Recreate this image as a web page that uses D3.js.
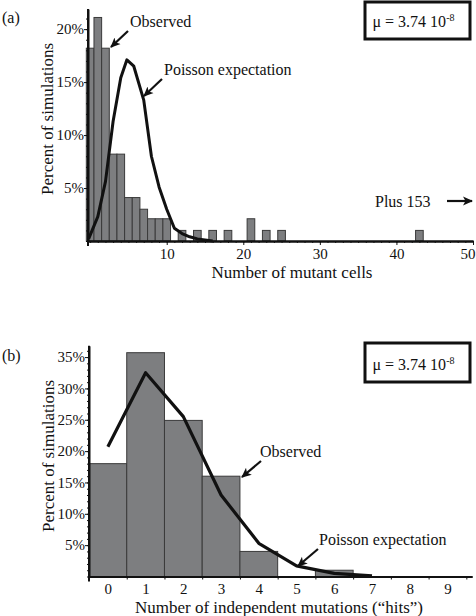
<!DOCTYPE html>
<html><head><meta charset="utf-8">
<script src="https://cdn.jsdelivr.net/npm/d3@7"></script>
<style>
body{margin:0;background:#fff}
svg{display:block}
text{font-family:"Liberation Serif","DejaVu Serif",serif;fill:#111}
</style></head>
<body><svg id="c" width="476" height="616"></svg>
<script>
// ---------- DATA ----------
// Panel (a): number of mutant cells
const cellsA = [0,1,2,3,4,5,6,7,8,9,10,12,14,16,18,21,23,25,43];
const pctA   = [18.2,21.1,18.2,8.2,8.2,4.1,4.1,3.0,2.1,2.1,2.1,1.0,1.0,1.0,1.0,2.1,1.0,1.0,1.0];
const poisA_x = [-0.2,1,2,3,4,4.8,5.7,7,8,9,10,11,12,13,14,16];
const poisA_y = [0.2,2.3,5.6,11.3,15.4,17.1,16.5,13.3,8.0,5.1,3.0,1.2,0.7,0.4,0.2,0];
const xTicksA = [10,20,30,40,50];
const yTicksA = [5,10,15,20];
// Panel (b): number of independent mutations
const hitsB = [0,1,2,3,4,5,6];
const pctB  = [18,35.7,24.9,16,4,0,1];
const poisB_x = [0,1,2,3,4,5,6,7];
const poisB_y = [20.7,32.5,25.5,13.0,5.3,1.7,0.5,0.1];
const xTicksB = [0,1,2,3,4,5,6,7,8,9];
const yTicksB = [5,10,15,20,25,30,35];
const muLabel = "\u03bc = 3.74 10";
const muExp = "-8";

// ---------- DRAW ----------
const FONT = "'Liberation Serif','DejaVu Serif',serif";
const svg = d3.select("#c");
const barFill = "#7d7e80", barStroke = "#3a3a3a";

svg.append("defs").append("marker")
  .attr("id","ah").attr("viewBox","0 0 10 10").attr("refX",9).attr("refY",5)
  .attr("markerWidth",10).attr("markerHeight",10).attr("markerUnits","userSpaceOnUse")
  .attr("orient","auto")
  .append("path").attr("d","M0,0.5 L10,5 L0,9.5 L2.5,5 Z").attr("fill","#111");

function arrow(x1,y1,x2,y2,w){
  svg.append("line").attr("x1",x1).attr("y1",y1).attr("x2",x2).attr("y2",y2)
    .attr("stroke","#111").attr("stroke-width",w||2.2).attr("marker-end","url(#ah)");
}
function label(x,y,t,size,anchor){
  return svg.append("text").attr("x",x).attr("y",y).attr("font-size",size||16)
    .attr("font-family",FONT).attr("text-anchor",anchor||"start").text(t);
}
function muBox(x,y,w,h,ty){
  svg.append("rect").attr("x",x).attr("y",y).attr("width",w).attr("height",h)
    .attr("fill","none").attr("stroke","#111").attr("stroke-width",3);
  const t = svg.append("text").attr("x",x+w/2-4).attr("y",ty).attr("font-size",16)
    .attr("font-family",FONT).attr("text-anchor","middle");
  t.append("tspan").text(muLabel);
  t.append("tspan").attr("dy",-6).attr("font-size",10).text(muExp);
}
function styleAxis(g){
  g.attr("font-family",FONT);
  g.selectAll("path.domain").attr("stroke","#111").attr("stroke-width",2);
  g.selectAll("line").attr("stroke","#111");
  g.selectAll("text").attr("font-size",15).attr("fill","#111").attr("font-family",FONT);
}

// ===== Panel (a) =====
const xA = d3.scaleLinear().domain([-0.28,50]).range([88,473]);
const yA = d3.scaleLinear().domain([0,21.9]).range([241,9]);

svg.append("g").selectAll("rect").data(cellsA).join("rect")
  .attr("x",(d)=>xA(d-0.5)).attr("width",(d)=>xA(d+0.5)-xA(d-0.5))
  .attr("y",(d,i)=>yA(pctA[i])).attr("height",(d,i)=>yA(0)-yA(pctA[i]))
  .attr("fill",barFill).attr("stroke",barStroke).attr("stroke-width",1);

svg.append("path").datum(poisA_x.map((x,i)=>[x,poisA_y[i]]))
  .attr("d",d3.line().x(d=>xA(d[0])).y(d=>yA(d[1])))
  .attr("fill","none").attr("stroke","#111").attr("stroke-width",3).attr("stroke-linejoin","round");

// x axis (a)
const gxAm = svg.append("g").attr("transform",`translate(0,${yA(0)})`)
  .call(d3.axisBottom(xA).tickValues(d3.range(0,51)).tickSize(2).tickFormat("").tickSizeOuter(0));
styleAxis(gxAm);
const gxA = svg.append("g").attr("transform",`translate(0,${yA(0)})`)
  .call(d3.axisBottom(xA).tickValues(xTicksA).tickSize(4).tickPadding(3).tickSizeOuter(0));
styleAxis(gxA);
// keep the last label inside the picture, as in the reference
gxA.selectAll(".tick text").filter(d=>d===50).attr("text-anchor","end").attr("x",2);
// y axis (a)
const gyAm = svg.append("g").attr("transform",`translate(${xA.range()[0]},0)`)
  .call(d3.axisLeft(yA).tickValues(d3.range(0,22)).tickSize(2).tickFormat("").tickSizeOuter(0));
styleAxis(gyAm);
const gyA = svg.append("g").attr("transform",`translate(${xA.range()[0]},0)`)
  .call(d3.axisLeft(yA).tickValues(yTicksA).tickSize(4).tickPadding(0).tickFormat(d=>d+"%").tickSizeOuter(0));
styleAxis(gyA);
gyA.select("path.domain").attr("d",`M0,${yA(0)+5}V${yA.range()[1]}`);

label(2,23,"(a)",16);
label(53,119,"Percent of simulations",17,"middle").attr("transform","rotate(-90,53,119)");
label(292,278,"Number of mutant cells",17,"middle");
muBox(365,2,105,37,27);
label(130,27,"Observed",16);
arrow(128,31,111,47);
label(164,75,"Poisson expectation",16);
arrow(162,79,144,96);
label(375,207,"Plus 153",16);
arrow(447,201,472,201);

// ===== Panel (b) =====
const xB = d3.scaleLinear().domain([-0.5,9.65]).range([89,472]);
const yB = d3.scaleLinear().domain([0,36.8]).range([576.5,345.8]);

svg.append("g").selectAll("rect").data(hitsB.filter((d,i)=>pctB[i]>0)).join("rect")
  .attr("x",(d)=>xB(d-0.5)).attr("width",(d)=>xB(d+0.5)-xB(d-0.5))
  .attr("y",(d)=>yB(pctB[hitsB.indexOf(d)])).attr("height",(d)=>yB(0)-yB(pctB[hitsB.indexOf(d)]))
  .attr("fill",barFill).attr("stroke",barStroke).attr("stroke-width",1);

svg.append("path").datum(poisB_x.map((x,i)=>[x,poisB_y[i]]))
  .attr("d",d3.line().x(d=>xB(d[0])).y(d=>yB(d[1])))
  .attr("fill","none").attr("stroke","#111").attr("stroke-width",3.2).attr("stroke-linejoin","round");

const gxBm = svg.append("g").attr("transform",`translate(0,${yB(0)})`)
  .call(d3.axisBottom(xB).tickValues(d3.range(-0.5,9.6,1)).tickSize(3).tickFormat("").tickSizeOuter(0));
styleAxis(gxBm);
const gxB = svg.append("g").attr("transform",`translate(0,${yB(0)})`)
  .call(d3.axisBottom(xB).tickValues(xTicksB).tickSize(0).tickPadding(7).tickSizeOuter(0));
styleAxis(gxB);
const gyBm = svg.append("g").attr("transform",`translate(${xB.range()[0]},0)`)
  .call(d3.axisLeft(yB).tickValues(d3.range(0,37)).tickSize(2).tickFormat("").tickSizeOuter(0));
styleAxis(gyBm);
const gyB = svg.append("g").attr("transform",`translate(${xB.range()[0]},0)`)
  .call(d3.axisLeft(yB).tickValues(yTicksB).tickSize(4).tickPadding(0).tickFormat(d=>d+"%").tickSizeOuter(0));
styleAxis(gyB);
gyB.select("path.domain").attr("d",`M0,${yB(0)+5}V${yB.range()[1]}`);

label(2,361,"(b)",16);
label(54,456,"Percent of simulations",17,"middle").attr("transform","rotate(-90,54,456)");
label(279,613,"Number of independent mutations (\u201chits\u201d)",17,"middle");
muBox(365,343,105,39,370);
label(260,457,"Observed",16);
arrow(261,461,242,477);
label(319,545,"Poisson expectation",16);
arrow(318,549,298,566);
</script></body></html>
